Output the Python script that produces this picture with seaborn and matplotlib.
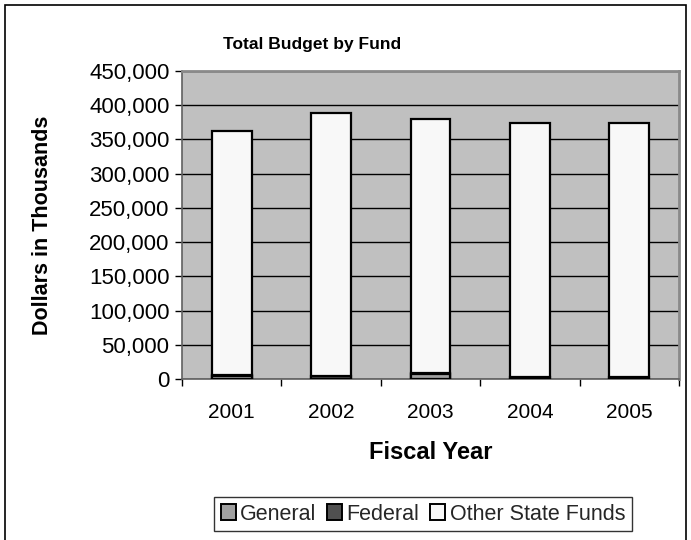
import matplotlib
matplotlib.use("Agg")
import matplotlib.pyplot as plt
from matplotlib.patches import Patch, Rectangle
from matplotlib.ticker import FuncFormatter, MultipleLocator
import numpy as np
import pandas as pd
import seaborn as sns

years = ["2001", "2002", "2003", "2004", "2005"]
general = [5000, 500, 7000, 300, 300]
federal = [1500, 3500, 1500, 3000, 3000]
other_state = [355500, 385000, 371000, 371200, 371200]
series_names = ["General", "Federal", "Other State Funds"]

sns.set_theme(style="white")
plt.rcParams["font.family"] = ["Liberation Sans", "DejaVu Sans"]

df = pd.DataFrame({"year": years, "General": general, "Federal": federal,
                   "Other State Funds": other_state})
df["c1"] = df["General"]
df["c2"] = df["General"] + df["Federal"]
df["c3"] = df["c2"] + df["Other State Funds"]

colors = {"General": "#a0a0a0", "Federal": "#505050", "Other State Funds": "#f8f8f8"}

fig = plt.figure(figsize=(6.91, 5.40), dpi=100)
ax = fig.add_axes([182/691, 1 - 379/540, (679-182)/691, (379-71)/540])
ax.set_facecolor("#c0c0c0")

for col, name in [("c3", "Other State Funds"), ("c2", "Federal"), ("c1", "General")]:
    sns.barplot(data=df, x="year", y=col, color=colors[name], width=0.4,
                edgecolor="black", linewidth=1.6, saturation=1, ax=ax, zorder=3)

ax.set_ylim(0, 450000)
ax.set_xlim(-0.5, 4.5)
ax.yaxis.set_major_locator(MultipleLocator(50000))
ax.yaxis.set_major_formatter(FuncFormatter(lambda v, p: f"{int(v):,}"))
ax.grid(axis="y", color="black", linewidth=1.0, zorder=1)
ax.set_axisbelow(True)

ax.set_xticks(np.arange(-0.5, 5, 1.0), minor=False)
ax.set_xticklabels([])
ax.set_xticks(np.arange(0, 5), minor=True)
ax.set_xticklabels(years, minor=True)
ax.tick_params(axis="x", which="major", direction="out", length=5, width=1, color="black", bottom=True)
ax.tick_params(axis="x", which="minor", length=0, labelsize=15, pad=17, colors="black")
ax.tick_params(axis="y", direction="out", length=5, width=1, color="black", left=True,
               labelsize=16, pad=4, labelcolor="black")

for s in ["left", "bottom"]:
    ax.spines[s].set_color("#606060")
    ax.spines[s].set_linewidth(1.2)
for s in ["top", "right"]:
    ax.spines[s].set_color("#8a8a8a")
    ax.spines[s].set_linewidth(2)

ax.set_xlabel("Fiscal Year", fontsize=17, fontweight="bold", labelpad=14, color="black")
ax.set_ylabel("Dollars in Thousands", fontsize=15.5, fontweight="bold", labelpad=26, color="black")
fig.text(312/691, 1 - 45/540, "Total Budget by Fund", ha="center", va="center",
         fontsize=12.5, fontweight="bold", color="black")

handles = [Patch(facecolor=colors[n], edgecolor="black", linewidth=1.4, label=n) for n in series_names]
leg = fig.legend(handles=handles, loc="center", bbox_to_anchor=(423/691, 1 - 514/540), ncol=3,
                 frameon=True, fontsize=15.5, handlelength=0.7, handleheight=0.7,
                 handletextpad=0.2, columnspacing=0.5, borderpad=0.3, fancybox=False)
leg.get_frame().set_edgecolor("black")
leg.get_frame().set_linewidth(1.0)

fig.patches.append(Rectangle((5/691, -0.05), (686-5)/691, 1.05 - 5/540, transform=fig.transFigure,
                             fill=False, edgecolor="black", linewidth=1.2))

fig.savefig("out.png", dpi=100)
